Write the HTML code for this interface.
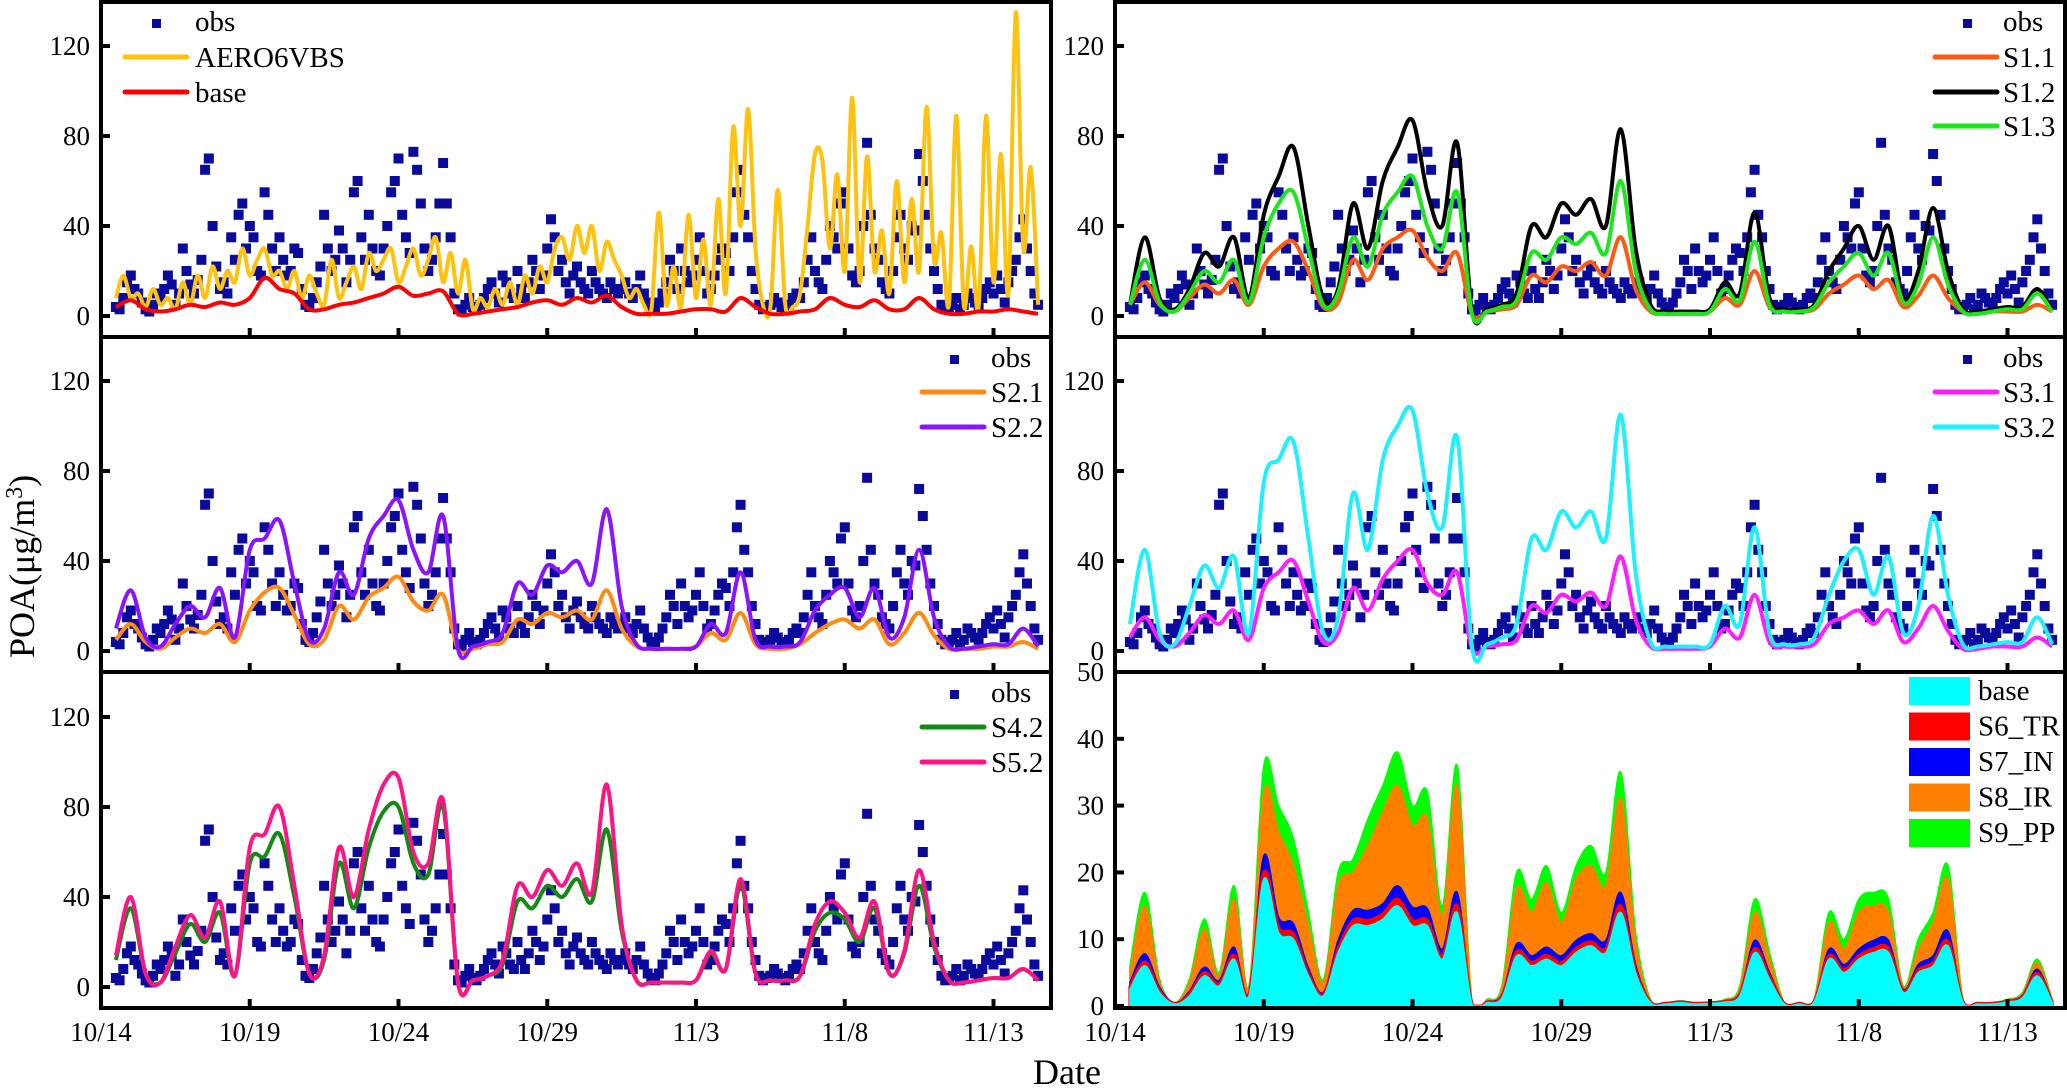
<!DOCTYPE html>
<html><head><meta charset="utf-8">
<style>
html,body{margin:0;padding:0;background:#fff;}
svg{display:block;font-family:"Liberation Serif","DejaVu Serif",serif;}
</style></head>
<body>
<svg id="chart" width="2067" height="1088" viewBox="0 0 2067 1088" xmlns="http://www.w3.org/2000/svg">
<defs>
<clipPath id="c0"><rect x="102" y="4" width="947" height="331"/></clipPath>
<clipPath id="c1"><rect x="1116" y="4" width="947" height="331"/></clipPath>
<clipPath id="c2"><rect x="102" y="339" width="947" height="331"/></clipPath>
<clipPath id="c3"><rect x="1116" y="339" width="947" height="331"/></clipPath>
<clipPath id="c4"><rect x="102" y="674" width="947" height="332"/></clipPath>
<clipPath id="c5"><rect x="1116" y="674" width="947" height="332"/></clipPath>
</defs>
<g id="layer"></g>
<text x="0" y="0" font-size="36" transform="translate(34,658) rotate(-90)">POA(μg/m<tspan dy="-12" font-size="24">3</tspan><tspan dy="12">)</tspan></text>
<text x="1067" y="1084" font-size="36" text-anchor="middle">Date</text>
</svg>
<script>
// ---- data (t = days since 10/14 00:00) ----
const dateLabels = ["10/14","10/19","10/24","10/29","11/3","11/8","11/13"];
const poaTicks = [0,40,80,120];
const stackTicks = [0,10,20,30,40,50];
// obs: 3-hour steps starting t=0.5
const obsVals = [
4,3,8,15,18,12,10,6, 3,2,5,10,8,12,18,14, 5,10,30,20,14,10,16,25, 65,70,40,22,12,15,10,35,
25,45,50,30,40,35,20,18, 55,45,30,20,35,25,18,20, 30,28,12,5,4,8,15,22, 45,30,20,25,38,30,15,25,
55,60,35,25,45,30,20,18, 30,40,55,60,70,45,35,28, 73,65,50,30,20,25,35,50, 68,50,35,10,3,2,5,8,
4,3,5,8,12,15,10,6, 18,15,10,8,20,12,8,15, 25,20,12,18,30,43,35,20, 25,15,10,18,22,15,12,10,
20,15,12,10,8,15,12,10, 12,15,10,8,12,18,10,6, 4,3,6,10,15,25,20,12, 30,20,15,18,25,35,20,10,
12,18,25,30,28,20,35,55, 65,45,35,20,12,5,3,4, 5,8,6,4,3,5,8,10, 8,15,25,35,20,15,12,25,
40,35,30,50,55,30,18,15, 20,40,77,45,30,25,15,12, 10,20,35,45,30,25,40,38, 72,60,45,30,20,12,5,3,
4,5,8,3,5,10,8,6, 5,8,12,15,10,18,12,6, 15,20,25,35,43,30,20,10, 5];
// AERO6VBS: 6-hour steps starting t=0.5
const aeroVals = [
8,18,8,10, 4,12,5,8, 3,15,5,18, 8,22,12,20, 15,30,18,25, 30,18,20,12, 20,8,18,10, 5,25,8,15,
22,12,28,20, 25,30,15,22, 30,18,25,35, 15,28,10,25, 3,8,4,12, 5,15,5,18, 10,22,15,30, 35,25,40,28,
40,20,33,25, 18,8,12,5,
3,46,5,22, 4,45,8,34, 5,52,10,84, 40,92,30,5, 4,56,5,4, 10,40,72,69, 30,63,20,97, 15,71,20,38,
10,60,15,52, 20,93,25,37, 5,89,5,31, 4,89,15,72, 10,135,30,66, 5];
// model series: 12-hour steps starting t=0.5
const baseVals = [4,7,3,2,3,5,4,6,5,8, 17,12,10,3,3,5,6,8,10,13, 9,10,11,1,1,2,3,4,6,7, 5,8,6,9,4,1,1,1,2,3, 3,2,8,4,1,1,2,3,8,5, 4,7,3,3,8,3,1,1,2,2, 3,2,1];
const s11Vals = [5,15,5,2,8,14,10,16,5,22, 30,33,20,4,6,25,16,30,35,38, 26,20,28,1,2,3,5,18,15,22, 20,24,18,35,12,2,1,1,1,2, 8,5,20,4,2,2,3,10,14,18, 12,16,4,9,18,8,2,1,2,2, 2,5,2];
const s12Vals = [5,35,8,3,12,28,22,35,8,45, 62,75,40,8,12,50,30,60,75,87, 55,40,77,2,3,5,10,40,35,50, 45,52,40,83,30,5,2,2,2,3, 15,10,46,8,3,3,5,20,30,40, 25,40,8,20,48,20,3,2,3,4, 4,12,3];
const s13Vals = [5,25,6,2,10,20,15,25,6,35, 50,55,30,5,10,35,22,45,55,62, 40,30,55,1,2,4,7,28,25,35, 32,37,28,60,20,3,1,1,1,2, 12,7,33,5,2,2,4,15,22,28, 18,28,6,14,35,14,2,1,2,3, 3,10,2];
const s21Vals = [5,12,4,1,6,10,8,12,4,18, 26,28,16,3,5,20,14,24,28,33, 22,18,25,1,1,3,4,14,12,17, 15,18,14,27,10,2,1,1,1,2, 8,5,17,3,1,1,3,8,12,14, 10,14,3,8,17,7,1,1,1,2, 2,4,1];
const s22Vals = [10,27,6,2,12,20,15,28,6,45, 50,58,30,5,10,35,25,50,60,67, 45,35,60,1,2,4,8,30,25,38, 35,40,30,63,20,3,1,1,1,2, 12,8,35,5,2,2,4,18,25,28, 15,28,6,15,45,15,2,1,2,3, 3,10,2];
const s31Vals = [6,15,5,2,8,16,12,18,5,28, 35,40,22,4,8,28,18,32,40,45, 30,25,35,1,2,3,5,20,17,25, 22,26,20,42,14,2,1,1,1,2, 10,6,25,4,2,2,3,12,15,18, 12,18,4,10,20,9,1,1,2,2, 2,6,2];
const s32Vals = [12,45,8,3,20,38,28,42,8,75, 85,93,50,8,15,70,45,85,100,107, 70,55,95,2,3,6,12,50,45,62, 55,62,50,105,35,4,2,2,2,3, 20,12,55,8,3,3,6,25,40,45, 25,42,8,20,60,25,3,2,3,4, 4,15,3];
const s42Vals = [12,35,6,2,15,28,20,33,5,55, 58,68,40,6,12,55,35,62,78,80, 55,50,80,2,3,5,10,38,35,45, 40,48,38,70,25,3,2,2,2,3, 15,8,45,6,3,3,5,25,33,30, 20,35,6,15,45,18,3,2,3,4, 4,8,3];
const s52Vals = [14,40,6,2,18,32,22,38,5,62, 68,80,45,6,14,62,40,70,90,93, 60,55,83,2,3,5,12,45,40,52, 45,55,42,90,28,3,2,2,2,3, 16,8,48,6,3,3,5,28,38,33, 22,38,6,16,52,20,3,2,3,4, 4,8,3];
// stacked contributions (12-hour steps starting t=0.5)
const stBase = [2.5,6,2,.3,1.5,4.5,3,7,1.5,19, 11,10,4.5,1.5,8,12,12,13,15,12, 12,7,14,.3,.5,1.2,7.5,6,7,6, 8,9,8,14,5,.5,.3,.5,.3,.4, .6,1.5,8,4,.3,.3,.6,7,5,7, 8,8,2,5,6,9,.6,.3,.3,.6, 1.2,4.5,.6];
const stTR = [.4,.6,.3,.1,.3,.5,.3,.6,.2,1, .8,.8,.4,.2,.6,.8,.8,.8,1,.8, .8,.5,1,.1,.1,.2,.6,.5,.6,.5, .6,.6,.6,1,.4,.1,.1,.1,.1,.1, .1,.2,.6,.4,.1,.1,.1,.5,.4,.5, .6,.6,.2,.4,.5,.7,.1,.1,.1,.1, .2,.4,.1];
const stIN = [.6,1.2,.5,.05,.4,.8,.5,1.2,.3,2.5, 1.5,1.5,.8,.3,1.2,1.5,1.5,1.5,2,2, 1.8,1,2,.05,.1,.3,1.2,1,1.2,1, 1.2,1.2,1.2,2,.8,.1,.05,.1,.05,.05, .1,.3,1.2,.6,.05,.05,.1,1,.8,1, 1.2,1.2,.3,.8,1,1.5,.1,.05,.05,.1, .2,.6,.1];
const stIR = [1.5,7.2,.7,0,1.3,5.7,.7,7.2,.7,9.5, 12.7,8.7,6.3,1.5,8.2,5.7,9.7,13.7,15,12.2, 13.4,5,16,0,.2,.8,8.2,6.5,9.7,5, 9.2,10.2,8.2,14,3.3,.2,0,.05,0,0, .1,.6,4.2,2,0,0,.1,4,2.3,5.5, 5.2,4.2,.3,2.3,5,7.8,.1,0,0,.1, .2,1,.1];
const stPP = [1,2,.5,.05,.5,1.5,.5,2,.3,4, 4,4,2,.5,2,2,4,4,5,3, 4,1.5,3,.05,.1,.5,2.5,2,2.5,1.5, 2,3,2,4,1.5,.1,.05,.05,.05,.05, .1,.4,2,1,.05,.05,.1,1.5,1.5,2, 2,2,.2,1.5,1.5,2,.1,.05,.05,.1, .2,.5,.1];

// ---- layout ----
const NS = "http://www.w3.org/2000/svg";
const layer = document.getElementById("layer");
const DAY = 29.75;
const panels = [
 {x0:101, x1:1051, top:2, bot:337, zero:316, k:2.25, clip:"c0"},
 {x0:1115,x1:2065, top:2, bot:337, zero:316, k:2.25, clip:"c1"},
 {x0:101, x1:1051, top:337, bot:672, zero:651, k:2.25, clip:"c2"},
 {x0:1115,x1:2065, top:337, bot:672, zero:651, k:2.25, clip:"c3"},
 {x0:101, x1:1051, top:672, bot:1008, zero:987, k:2.25, clip:"c4"},
 {x0:1115,x1:2065, top:672, bot:1008, zero:1006, k:6.68, clip:"c5"}
];
function xScale(p,t){return p.x0 + t*DAY;}
function yScale(p,v){return p.zero - v*p.k;}
function mk(tag, attrs, parent){
  const e = document.createElementNS(NS, tag);
  for (const a in attrs) e.setAttribute(a, attrs[a]);
  (parent||layer).appendChild(e);
  return e;
}
// smooth path through points (Catmull-Rom -> cubic Bezier)
function smoothThrough(pts){
  let d = "";
  for (let i=0;i<pts.length-1;i++){
    const p0 = pts[Math.max(0,i-1)], p1 = pts[i], p2 = pts[i+1], p3 = pts[Math.min(pts.length-1,i+2)];
    const c1x = p1[0]+(p2[0]-p0[0])/6, c1y = p1[1]+(p2[1]-p0[1])/6;
    const c2x = p2[0]-(p3[0]-p1[0])/6, c2y = p2[1]-(p3[1]-p1[1])/6;
    d += "C"+c1x.toFixed(1)+","+c1y.toFixed(1)+" "+c2x.toFixed(1)+","+c2y.toFixed(1)+" "+p2[0].toFixed(1)+","+p2[1].toFixed(1);
  }
  return d;
}
function seriesPoints(p, vals, t0, step){
  return vals.map((v,i)=>[xScale(p,t0+i*step), yScale(p,v)]);
}
function drawObs(p, idx){
  const g = mk("g", {"clip-path":"url(#"+p.clip+")"});
  
  
  obsVals.forEach((v,i)=>{
    const r = mk("rect", {x:(xScale(p,0.5+i*0.125)-5).toFixed(1), y:(yScale(p,v)-5).toFixed(1), width:10, height:10, fill:"#0a0a9c"}, g);
    
    
  });
}
function drawLine(p, vals, t0, step, color, name){
  const pts = seriesPoints(p, vals, t0, step);
  const d = "M"+pts[0][0].toFixed(1)+","+pts[0][1].toFixed(1)+smoothThrough(pts);
  const e = mk("path", {d:d, fill:"none", stroke:color, "stroke-width":4, "stroke-linejoin":"round", "clip-path":"url(#"+p.clip+")"});
  
  
}
function legendText(x,y,txt,anchor){
  const t = mk("text", {x:x, y:y, "font-size":29, "text-anchor":anchor||"start"});
  t.textContent = txt;
  
  
}
function legendObs(x,y){
  const r = mk("rect",{x:x, y:y, width:9, height:9, fill:"#0a0a9c"});
  
  
}
function legendLine(x1,x2,y,color){
  const l = mk("line",{x1:x1,x2:x2,y1:y,y2:y,stroke:color,"stroke-width":5,"stroke-linecap":"round"});
  
  
}

// ---- series ----
drawObs(panels[0],0);
drawLine(panels[0], aeroVals, 0.5, 0.25, "#ffc20e", "aero6vbs-line");
drawLine(panels[0], baseVals, 0.5, 0.5, "#ff0000", "base-line");
drawObs(panels[1],1);
drawLine(panels[1], s11Vals, 0.5, 0.5, "#ff5a14", "s1-1-line");
drawLine(panels[1], s12Vals, 0.5, 0.5, "#000000", "s1-2-line");
drawLine(panels[1], s13Vals, 0.5, 0.5, "#1ee61e", "s1-3-line");
drawObs(panels[2],2);
drawLine(panels[2], s21Vals, 0.5, 0.5, "#ff8a14", "s2-1-line");
drawLine(panels[2], s22Vals, 0.5, 0.5, "#8a14ff", "s2-2-line");
drawObs(panels[3],3);
drawLine(panels[3], s31Vals, 0.5, 0.5, "#ff1eff", "s3-1-line");
drawLine(panels[3], s32Vals, 0.5, 0.5, "#1ef0ff", "s3-2-line");
drawObs(panels[4],4);
drawLine(panels[4], s42Vals, 0.5, 0.5, "#148a14", "s4-2-line");
drawLine(panels[4], s52Vals, 0.5, 0.5, "#ff1486", "s5-2-line");

// stacked areas
(function(){
  const p = panels[5];
  const layers = [stBase, stTR, stIN, stIR, stPP];
  const colors = ["#00ffff","#ff0000","#0000ff","#ff8000","#00ff00"];
  const names = ["area-base","area-s6-tr","area-s7-in","area-s8-ir","area-s9-pp"];
  const n = stBase.length;
  let lower = new Array(n).fill(0);
  const uppers = [];
  layers.forEach((arr)=>{
    const upper = lower.map((v,i)=>v+arr[i]);
    uppers.push(upper);
    lower = upper;
  });
  for (let li=layers.length-1; li>=0; li--){
    const pts = seriesPoints(p, uppers[li], 0.5, 0.5);
    let d = "M" + pts[0][0].toFixed(1) + "," + yScale(p,0) + "L" + pts[0][0].toFixed(1) + "," + pts[0][1].toFixed(1);
    d += smoothThrough(pts);
    d += "L" + pts[n-1][0].toFixed(1) + "," + yScale(p,0) + "Z";
    const e = mk("path",{d:d, fill:colors[li], stroke:colors[li], "stroke-width": li==1?3:1.5, "clip-path":"url(#"+p.clip+")"});
    
    
  }
})();

// ---- axes ----
panels.forEach((p,pi)=>{
  const stack = pi===5;
  const ticks = stack ? stackTicks : poaTicks;
  ticks.forEach(v=>{
    const y = yScale(p,v);
    const tk = mk("line",{x1:p.x0, x2:p.x0+9, y1:y, y2:y, stroke:"#000","stroke-width":4});
    
    
    const lb = mk("text",{x:p.x0-11, y:y+9, "font-size":27, "text-anchor":"end"});
    lb.textContent = v;
    
    
  });
  dateLabels.forEach((lab,i)=>{
    const x = xScale(p, i*5);
    const tk = mk("line",{x1:x, x2:x, y1:p.bot, y2:p.bot-9, stroke:"#000","stroke-width":4});
    
    
    if (pi>=4){
      const lb = mk("text",{x:x, y:1041, "font-size":27, "text-anchor":"middle"});
      lb.textContent = lab;
      
      
    }
  });
  const fr = mk("rect",{x:p.x0, y:p.top, width:p.x1-p.x0, height:p.bot-p.top, fill:"none", stroke:"#000", "stroke-width":4});
  
  
});

// ---- legends ----
legendObs(152,19); legendText(195,31,"obs");
legendLine(125,187,57,"#ffc20e"); legendText(195,67,"AERO6VBS");
legendLine(125,187,92,"#ff0000"); legendText(195,102,"base");

legendObs(1963,19); legendText(2003,31,"obs");
legendLine(1935,1997,57,"#ff5a14"); legendText(2003,67,"S1.1");
legendLine(1935,1997,92,"#000000"); legendText(2003,102,"S1.2");
legendLine(1935,1997,126,"#1ee61e"); legendText(2003,136,"S1.3");

legendObs(950,355); legendText(991,367,"obs");
legendLine(922,984,392,"#ff8a14"); legendText(991,402,"S2.1");
legendLine(922,984,427,"#8a14ff"); legendText(991,437,"S2.2");

legendObs(1963,355); legendText(2003,367,"obs");
legendLine(1935,1997,392,"#ff1eff"); legendText(2003,402,"S3.1");
legendLine(1935,1997,427,"#1ef0ff"); legendText(2003,437,"S3.2");

legendObs(950,690); legendText(991,702,"obs");
legendLine(922,984,727,"#148a14"); legendText(991,737,"S4.2");
legendLine(922,984,762,"#ff1486"); legendText(991,772,"S5.2");

[["#00ffff","base"],["#ff0000","S6_TR"],["#0000ff","S7_IN"],["#ff8000","S8_IR"],["#00ff00","S9_PP"]].forEach((e,i)=>{
  const y = 677 + i*35.5;
  const r = mk("rect",{x:1909, y:y, width:61, height:28, fill:e[0]});
  
  
  legendText(1978, y+23, e[1]);
});
</script>
</body></html>
